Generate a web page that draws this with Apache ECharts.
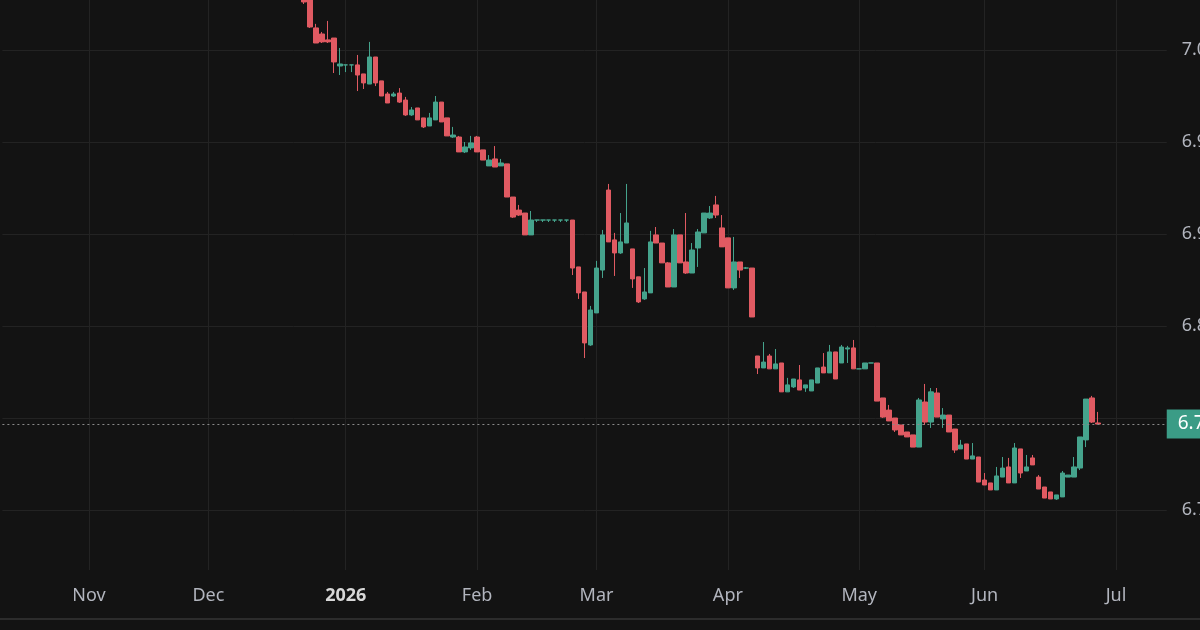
<!DOCTYPE html>
<html>
<head>
<meta charset="utf-8">
<title>USD/CNY daily</title>
<script src="https://cdn.jsdelivr.net/npm/echarts@6/dist/echarts.min.js"></script>
<style>
  html, body { margin: 0; padding: 0; background: #131313; }
  #chart { width: 1200px; height: 630px; }
</style>
</head>
<body>
<div id="chart"></div>
<script>
var firstDay = '2025-10-14';
var barCount = 195;
var firstCandle = '2025-12-23';
var monthNames = ['Jan', 'Feb', 'Mar', 'Apr', 'May', 'Jun', 'Jul', 'Aug', 'Sep', 'Oct', 'Nov', 'Dec'];

// price scale
var priceMin = 6.70, priceMax = 7.05, priceStep = 0.05;
var lastPrice = 6.7967;

var opens = [
    7.0381, 7.0283, 7.0120, 7.0087, 7.0055, 7.0065, 6.9913, 6.9919, 6.9919, 6.9919,
    6.9870, 6.9815, 6.9962, 6.9832, 6.9761, 6.9750, 6.9766, 6.9728, 6.9647, 6.9685,
    6.9631, 6.9587, 6.9620, 6.9717, 6.9631, 6.9527, 6.9527, 6.9446, 6.9468, 6.9527,
    6.9457, 6.9370, 6.9408, 6.9370, 6.9381, 6.9201, 6.9130, 6.9114, 6.8995, 6.9076,
    6.9076, 6.9076, 6.9076, 6.9076, 6.9076, 6.9076, 6.8821, 6.8685, 6.8397, 6.8571,
    6.8804, 6.9239, 6.8968, 6.8897, 6.8951, 6.8919, 6.8767, 6.8647, 6.8680, 6.8995,
    6.8951, 6.8843, 6.8712, 6.8995, 6.8848, 6.8788, 6.8924, 6.9006, 6.9087, 6.9158,
    6.9033, 6.8979, 6.8707, 6.8848, 6.8815, 6.8815, 6.8337, 6.8272, 6.8337, 6.8267,
    6.8299, 6.8142, 6.8169, 6.8207, 6.8163, 6.8147, 6.8190, 6.8277, 6.8245, 6.8359,
    6.8299, 6.8375, 6.8381, 6.8267, 6.8267, 6.8299, 6.8299, 6.8109, 6.8043, 6.8000,
    6.7962, 6.7924, 6.7908, 6.7842, 6.8087, 6.7978, 6.8136, 6.7995, 6.8016, 6.7940,
    6.7832, 6.7859, 6.7777, 6.7788, 6.7663, 6.7647, 6.7609, 6.7679, 6.7734, 6.7647,
    6.7832, 6.7712, 6.7783, 6.7679, 6.7625, 6.7598, 6.7560, 6.7571, 6.7679, 6.7679,
    6.7728, 6.7881, 6.8109, 6.7973
];
var closes = [
    7.0261, 7.0125, 7.0038, 7.0044, 7.0044, 6.9935, 6.9924, 6.9919, 6.9919, 6.9864,
    6.9821, 6.9962, 6.9821, 6.9750, 6.9712, 6.9761, 6.9717, 6.9647, 6.9674, 6.9620,
    6.9582, 6.9631, 6.9717, 6.9609, 6.9533, 6.9538, 6.9446, 6.9473, 6.9495, 6.9446,
    6.9402, 6.9402, 6.9364, 6.9386, 6.9201, 6.9092, 6.9103, 6.8995, 6.9076, 6.9076,
    6.9076, 6.9076, 6.9076, 6.9076, 6.9076, 6.8815, 6.8680, 6.8408, 6.8587, 6.8815,
    6.8995, 6.8957, 6.8897, 6.8957, 6.9060, 6.8756, 6.8631, 6.8685, 6.8957, 6.8951,
    6.8843, 6.8712, 6.8995, 6.8843, 6.8788, 6.8913, 6.9011, 6.9114, 6.9114, 6.9103,
    6.8930, 6.8707, 6.8848, 6.8804, 6.8815, 6.8549, 6.8272, 6.8304, 6.8267, 6.8294,
    6.8142, 6.8180, 6.8212, 6.8152, 6.8180, 6.8207, 6.8272, 6.8245, 6.8359, 6.8212,
    6.8386, 6.8381, 6.8267, 6.8267, 6.8299, 6.8299, 6.8092, 6.8005, 6.7984, 6.7935,
    6.7908, 6.7897, 6.7842, 6.8098, 6.7978, 6.8142, 6.8005, 6.8016, 6.7924, 6.7826,
    6.7853, 6.7777, 6.7794, 6.7652, 6.7636, 6.7609, 6.7685, 6.7728, 6.7647, 6.7837,
    6.7701, 6.7734, 6.7745, 6.7614, 6.7565, 6.7560, 6.7582, 6.7701, 6.7690, 6.7734,
    6.7897, 6.8103, 6.7978, 6.7967
];
var lows = [
    7.0250, 7.0120, 7.0038, 7.0038, 7.0038, 6.9875, 6.9864, 6.9880, 6.9880, 6.9777,
    6.9788, 6.9815, 6.9804, 6.9750, 6.9712, 6.9745, 6.9712, 6.9642, 6.9642, 6.9620,
    6.9576, 6.9587, 6.9620, 6.9609, 6.9533, 6.9522, 6.9446, 6.9440, 6.9457, 6.9446,
    6.9402, 6.9370, 6.9364, 6.9370, 6.9201, 6.9087, 6.9098, 6.8995, 6.8995, 6.9065,
    6.9065, 6.9065, 6.9065, 6.9065, 6.9065, 6.8777, 6.8647, 6.8326, 6.8392, 6.8571,
    6.8761, 6.8957, 6.8772, 6.8892, 6.8951, 6.8707, 6.8625, 6.8642, 6.8680, 6.8951,
    6.8843, 6.8712, 6.8712, 6.8843, 6.8783, 6.8788, 6.8821, 6.9006, 6.9082, 6.9087,
    6.8930, 6.8707, 6.8696, 6.8761, 6.8810, 6.8549, 6.8239, 6.8272, 6.8267, 6.8267,
    6.8142, 6.8142, 6.8163, 6.8152, 6.8142, 6.8147, 6.8190, 6.8245, 6.8245, 6.8212,
    6.8299, 6.8299, 6.8267, 6.8267, 6.8267, 6.8299, 6.8092, 6.8000, 6.7984, 6.7924,
    6.7908, 6.7897, 6.7842, 6.7842, 6.7962, 6.7946, 6.8005, 6.7946, 6.7924, 6.7810,
    6.7832, 6.7777, 6.7777, 6.7652, 6.7636, 6.7609, 6.7609, 6.7679, 6.7647, 6.7647,
    6.7674, 6.7712, 6.7745, 6.7614, 6.7565, 6.7560, 6.7555, 6.7571, 6.7679, 6.7679,
    6.7717, 6.7842, 6.7973, 6.7967
];
var highs = [
    7.0408, 7.0283, 7.0142, 7.0098, 7.0158, 7.0065, 7.0011, 6.9919, 6.9919, 6.9973,
    6.9870, 7.0044, 6.9962, 6.9832, 6.9772, 6.9772, 6.9793, 6.9745, 6.9690, 6.9685,
    6.9631, 6.9658, 6.9750, 6.9717, 6.9631, 6.9582, 6.9533, 6.9500, 6.9533, 6.9533,
    6.9457, 6.9429, 6.9478, 6.9408, 6.9381, 6.9201, 6.9158, 6.9114, 6.9125, 6.9076,
    6.9076, 6.9076, 6.9076, 6.9076, 6.9076, 6.9076, 6.8821, 6.8685, 6.8609, 6.8854,
    6.9022, 6.9272, 6.9006, 6.9114, 6.9272, 6.8919, 6.8767, 6.8815, 6.9017, 6.9038,
    6.8951, 6.8848, 6.9027, 6.8995, 6.9114, 6.8951, 6.9027, 6.9114, 6.9152, 6.9207,
    6.9103, 6.8979, 6.8984, 6.8848, 6.8821, 6.8815, 6.8337, 6.8413, 6.8348, 6.8375,
    6.8299, 6.8218, 6.8212, 6.8288, 6.8180, 6.8207, 6.8272, 6.8353, 6.8397, 6.8359,
    6.8397, 6.8392, 6.8424, 6.8267, 6.8299, 6.8299, 6.8299, 6.8109, 6.8071, 6.8000,
    6.7962, 6.7924, 6.7908, 6.8109, 6.8185, 6.8163, 6.8163, 6.8054, 6.8016, 6.7940,
    6.7881, 6.7859, 6.7864, 6.7788, 6.7701, 6.7647, 6.7734, 6.7788, 6.7783, 6.7864,
    6.7832, 6.7799, 6.7799, 6.7690, 6.7625, 6.7598, 6.7582, 6.7712, 6.7690, 6.7788,
    6.7897, 6.8103, 6.8120, 6.8033
];

var upColor = '#45a38c',
    downColor = '#e05a62',
    gridColor = '#232323',
    textColor = '#b2b5be',
    font = 'Noto Sans';

// weekday categories
var days = [];
var d = new Date(firstDay + 'T00:00:00Z');
while (days.length < barCount) {
    var wd = d.getUTCDay();
    if (wd !== 0 && wd !== 6) days.push(d.toISOString().slice(0, 10));
    d.setUTCDate(d.getUTCDate() + 1);
}

function isMonthStart(i) {
    return i > 0 && days[i].slice(0, 7) !== days[i - 1].slice(0, 7);
}

var start = days.indexOf(firstCandle);
var candles = days.map(function (day, i) {
    var k = i - start;
    if (k < 0 || k >= opens.length) return '-';
    return [opens[k], closes[k], lows[k], highs[k]];
});

var barW = 5.971;   // px per bar
var left = 2.4;

var splitColors = ['rgba(0,0,0,0)'];
for (var t = priceMin + priceStep; t <= priceMax + 1e-9; t += priceStep) splitColors.push(gridColor);

var option = {
    backgroundColor: '#131313',
    animation: false,
    grid: [
        { left: left, width: barCount * barW, top: -42, height: 644, outerBoundsMode: 'none' },
        { left: left + barW / 2, width: (barCount - 1) * barW, top: 0, bottom: 60, outerBoundsMode: 'none' }
    ],
    xAxis: [{
        type: 'category',
        gridIndex: 0,
        data: days,
        show: false
    }, {
        type: 'category',
        gridIndex: 1,
        data: days,
        boundaryGap: false,
        axisLine: { show: false },
        axisTick: { show: false },
        axisLabel: {
            interval: function (i) { return isMonthStart(i); },
            formatter: function (value) {
                var m = +value.slice(5, 7);
                return m === 1 ? '{year|' + value.slice(0, 4) + '}' : monthNames[m - 1];
            },
            margin: 17,
            color: textColor,
            fontSize: 18,
            fontFamily: font,
            rich: {
                year: { color: '#d8d8d8', fontWeight: 'bold', fontSize: 18, fontFamily: font }
            }
        },
        splitLine: {
            show: true,
            interval: function (i) { return isMonthStart(i); },
            lineStyle: { color: gridColor, width: 1 }
        }
    }],
    yAxis: [{
        type: 'value',
        gridIndex: 0,
        position: 'right',
        min: priceMin,
        max: priceMax,
        interval: priceStep,
        axisLine: { show: false },
        axisTick: { show: false },
        axisLabel: {
            showMinLabel: false,
            showMaxLabel: false,
            margin: 15,
            color: textColor,
            fontSize: 18,
            fontFamily: font,
            formatter: function (v) { return v.toFixed(4); }
        },
        splitLine: { lineStyle: { color: splitColors, width: 1 } }
    }, {
        type: 'value',
        gridIndex: 1,
        show: false,
        min: 0,
        max: 1,
        splitLine: { show: false }
    }],
    series: [{
        name: 'USDCNY',
        type: 'candlestick',
        xAxisIndex: 0,
        yAxisIndex: 0,
        data: candles,
        barWidth: 5,
        itemStyle: {
            color: upColor,
            color0: downColor,
            borderColor: upColor,
            borderColor0: downColor,
            borderColorDoji: upColor,
            borderWidth: 1
        },
        markLine: {
            silent: true,
            symbol: ['none', 'none'],
            precision: 4,
            animation: false,
            data: [{ yAxis: lastPrice }],
            lineStyle: { color: '#8a8a8a', type: [2, 3], width: 1 },
            label: {
                position: 'end',
                distance: 0,
                formatter: lastPrice.toFixed(4),
                color: '#ffffff',
                backgroundColor: '#3b9c86',
                padding: [5, 10, 5, 11],
                fontSize: 19,
                fontFamily: font
            }
        }
    }],
    graphic: [{
        type: 'rect',
        left: 0,
        top: 618,
        silent: true,
        shape: { width: 1200, height: 2 },
        style: { fill: '#2c2c2c' }
    }]
};

var chart = echarts.init(document.getElementById('chart'));
chart.setOption(option);
</script>
</body>
</html>
